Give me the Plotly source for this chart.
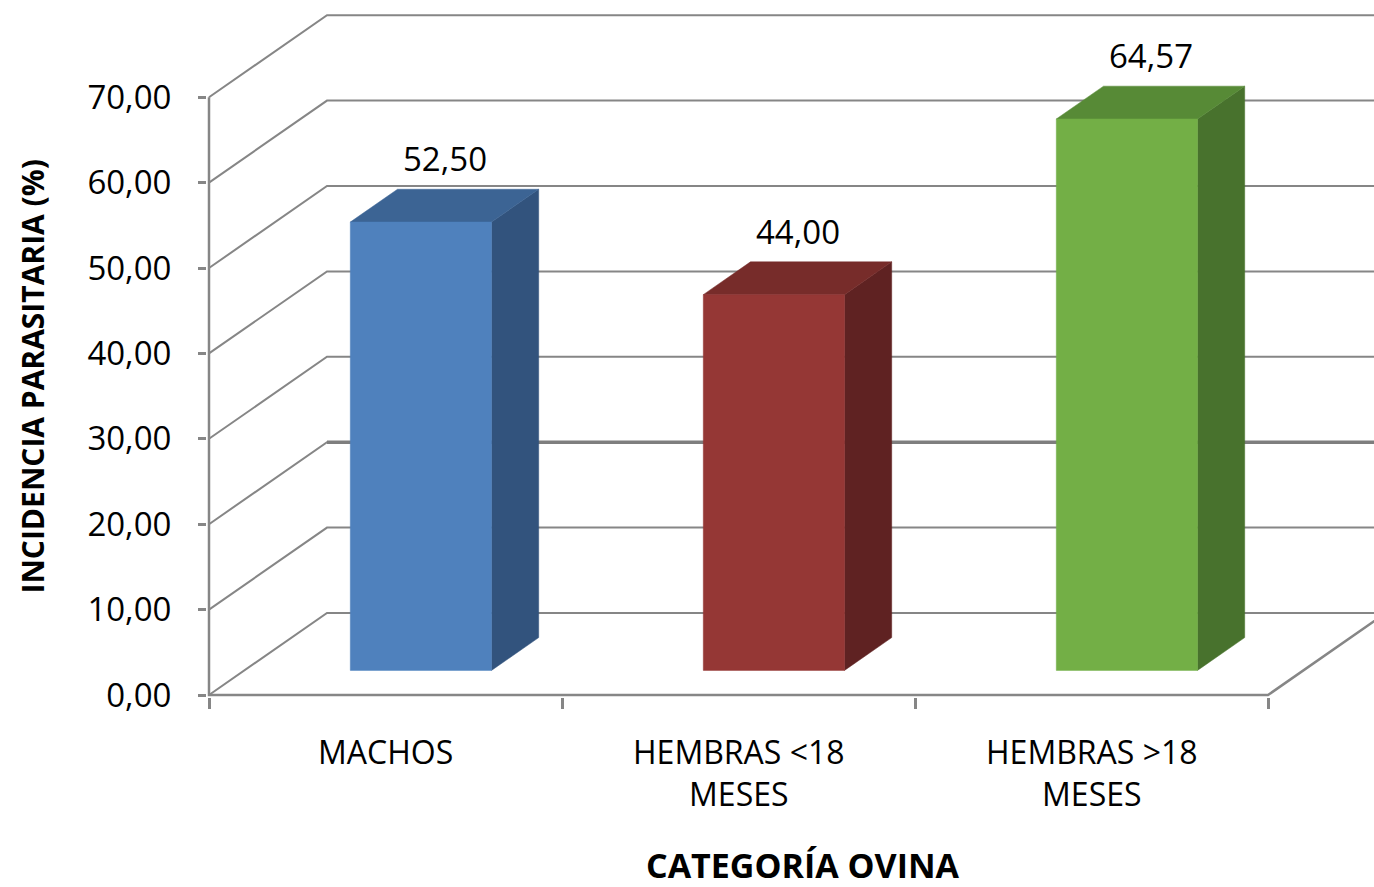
import plotly.graph_objects as go

# ---------------- data ----------------
categories = ["MACHOS", "HEMBRAS <18 MESES", "HEMBRAS >18 MESES"]
values = [52.50, 44.00, 64.57]
y_ticks = [0, 10, 20, 30, 40, 50, 60, 70]
x_title = "CATEGORÍA OVINA"
y_title = "INCIDENCIA PARASITARIA (%)"

# ---------------- style ----------------
front_colors = ["#4F81BD", "#953735", "#73AF46"]
top_colors = ["#3C6494", "#772C2A", "#578A36"]
side_colors = ["#32537D", "#5F2222", "#48722D"]
grid_color = "#868686"
FONT = "Open Sans"

# pixel layout of the plot frame
W, H = 1374, 887
PL, PR, PT, PB = 207, 1374, 0, 697       # plot area edges (px)
FX0, CATW = 209, 353                     # front-left edge px, category width px
FY0, PXU = 695, 8.54                     # zero line px, px per unit

x_min = -0.5 - (FX0 - PL) / CATW
x_max = -0.5 + (PR - FX0) / CATW
y_min = -(PB - FY0) / PXU
y_max = (FY0 - PT) / PXU

# 3D depth vector (axis units) and bar depth placement
DX, DY = 118 / CATW, 82 / PXU
F0, F1 = 0.30, 0.70
HALF = 0.2

fig = go.Figure()

# side wall diagonals + back wall gridlines
gx, gy = [], []
for v in y_ticks:
    gx += [-0.5, -0.5 + DX, len(categories) - 0.5 + DX, None]
    gy += [v, v + DY, v + DY, None]
fig.add_trace(go.Scatter(x=gx, y=gy, mode="lines",
                         line=dict(color=grid_color, width=2),
                         hoverinfo="skip", showlegend=False))
# slightly heavier back gridline at 20
fig.add_trace(go.Scatter(x=[-0.5 + DX, len(categories) - 0.5 + DX],
                         y=[y_ticks[2] + DY, y_ticks[2] + DY], mode="lines",
                         line=dict(color="#7E7E7E", width=3.5),
                         hoverinfo="skip", showlegend=False))
# front-left edge, floor front edge and floor right edge
fig.add_trace(go.Scatter(x=[-0.5, -0.5, len(categories) - 0.5, len(categories) - 0.5 + DX],
                         y=[y_ticks[-1], 0, 0, DY], mode="lines",
                         line=dict(color=grid_color, width=2.5),
                         hoverinfo="skip", showlegend=False))

# bars
ddx, ddy = (F1 - F0) * DX, (F1 - F0) * DY
for i, v in enumerate(values):
    xc = i + F0 * DX
    xl, xr = xc - HALF, xc + HALF
    yb = F0 * DY
    yt = yb + v
    faces = [
        ([xr, xr + ddx, xr + ddx, xr, xr], [yb, yb + ddy, yt + ddy, yt, yb], side_colors[i]),
        ([xl, xl + ddx, xr + ddx, xr, xl], [yt, yt + ddy, yt + ddy, yt, yt], top_colors[i]),
        ([xl, xr, xr, xl, xl], [yb, yb, yt, yt, yb], front_colors[i]),
    ]
    for fx, fy, col in faces:
        fig.add_trace(go.Scatter(x=fx, y=fy, mode="lines", fill="toself",
                                 fillcolor=col, line=dict(color=col, width=0.5),
                                 hoverinfo="skip", showlegend=False))
    # value label
    fig.add_annotation(x=xc + 0.5 * ddx, y=yt + 0.5 * ddy, xref="x", yref="y",
                       text=f"{v:.2f}".replace(".", ","), showarrow=False,
                       yshift=47, xanchor="center", yanchor="middle",
                       font=dict(family=FONT, size=33, color="#000000"))

# category labels
for i, c in enumerate(categories):
    t = c.replace("<", "&lt;").replace(">", "&gt;").replace(" MESES", "<br>MESES")
    fig.add_annotation(x=i, y=0, xref="x", yref="paper", text=t, showarrow=False,
                       xanchor="center", yanchor="top", yshift=-31,
                       font=dict(family=FONT, size=32, color="#000000"))

# axis titles
plot_w, plot_h = PR - PL, PB - PT
fig.add_annotation(x=(32 - PL) / plot_w, y=(PB - 376.5) / plot_h, xref="paper", yref="paper",
                   text=f"<b>{y_title}</b>", textangle=-90, showarrow=False,
                   xanchor="center", yanchor="middle",
                   font=dict(family=FONT, size=30, color="#000000"))
fig.add_annotation(x=(802.5 - PL) / plot_w, y=(PB - 865) / plot_h, xref="paper", yref="paper",
                   text=f"<b>{x_title}</b>", showarrow=False,
                   xanchor="center", yanchor="middle",
                   font=dict(family=FONT, size=34, color="#000000"))

fig.update_xaxes(range=[x_min, x_max], showgrid=False, zeroline=False, showline=False,
                 tickmode="array", tickvals=[k - 0.5 for k in range(len(categories) + 1)],
                 ticks="outside", ticklen=11, tickwidth=2.5, tickcolor=grid_color,
                 showticklabels=False, fixedrange=True)
fig.update_yaxes(range=[y_min, y_max], showgrid=False, zeroline=False, showline=False,
                 tickmode="array", tickvals=y_ticks, tickformat=".2f",
                 ticks="outside", ticklen=8, tickwidth=2.5, tickcolor=grid_color,
                 ticklabelstandoff=20,
                 tickfont=dict(family=FONT, size=33, color="#000000"), fixedrange=True)

fig.update_layout(width=W, height=H, autosize=False,
                  margin=dict(l=PL, r=W - PR, t=PT, b=H - PB, pad=0),
                  separators=",.", plot_bgcolor="white", paper_bgcolor="white",
                  showlegend=False)

fig.write_html("out.html")
